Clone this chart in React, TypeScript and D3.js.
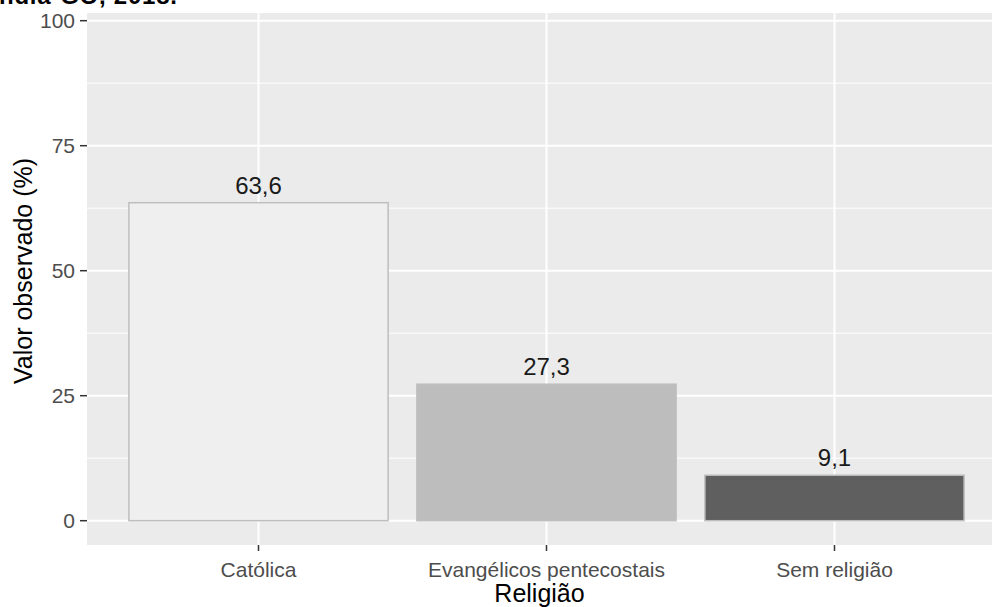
import * as d3 from 'd3';
import React from 'react';

const categories = ['Católica', 'Evangélicos pentecostais', 'Sem religião'];
const values = [63.6, 27.3, 9.1];
const labels = ['63,6', '27,3', '9,1'];
const fills = ['#efefef', '#bdbdbd', '#5f5f5f'];
const yTicks = [0, 25, 50, 75, 100];
const yMinor = [12.5, 37.5, 62.5, 87.5];

const W = 992;
const H = 607;
const panel = { left: 87, right: 992, top: 13, bottom: 545 };
const font = '"Liberation Sans", Arial, sans-serif';

const App = () => {
	const x = d3
		.scaleBand()
		.domain(categories)
		.range([114.5, 978.5])
		.paddingInner(0.1)
		.paddingOuter(0.05);
	const y = d3.scaleLinear().domain([0, 100]).range([520.7, 20.7]);

	return (
		<svg
			width={W}
			height={H}
			style={{ position: 'absolute', left: 0, top: 0, background: '#fff' }}
		>
			<text x={-1} y={4} fontFamily={font} fontWeight="bold" fontSize={24} textLength={178} fill="#000">
				ndia-GO, 2018.
			</text>
			<rect
				x={panel.left}
				y={panel.top}
				width={panel.right - panel.left}
				height={panel.bottom - panel.top}
				fill="#ebebeb"
			/>
			{yMinor.map(t => (
				<line key={'m' + t} x1={panel.left} x2={panel.right} y1={y(t)} y2={y(t)} stroke="#fff" strokeWidth={1} />
			))}
			{yTicks.map(t => (
				<line key={'g' + t} x1={panel.left} x2={panel.right} y1={y(t)} y2={y(t)} stroke="#fff" strokeWidth={2} />
			))}
			{categories.map(c => {
				const cx = (x(c) as number) + x.bandwidth() / 2;
				return <line key={'v' + c} x1={cx} x2={cx} y1={panel.top} y2={panel.bottom} stroke="#fff" strokeWidth={2} />;
			})}
			{categories.map((c, i) => (
				<rect
					key={'b' + c}
					x={x(c)}
					y={y(values[i])}
					width={x.bandwidth()}
					height={y(0) - y(values[i])}
					fill={fills[i]}
					stroke="#bebebe"
					strokeWidth={1.5}
				/>
			))}
			{categories.map((c, i) => (
				<text
					key={'l' + c}
					x={(x(c) as number) + x.bandwidth() / 2}
					y={y(values[i]) - 9}
					textAnchor="middle"
					fontFamily={font}
					fontSize={24}
					fill="#1a1a1a"
				>
					{labels[i]}
				</text>
			))}
			{yTicks.map(t => (
				<g key={'yt' + t}>
					<line x1={80} x2={panel.left} y1={y(t)} y2={y(t)} stroke="#333" strokeWidth={1.5} />
					<text
						x={75}
						y={y(t)}
						dy="0.35em"
						textAnchor="end"
						fontFamily={font}
						fontSize={21}
						fill="#4d4d4d"
					>
						{t}
					</text>
				</g>
			))}
			{categories.map(c => {
				const cx = (x(c) as number) + x.bandwidth() / 2;
				return (
					<g key={'xt' + c}>
						<line x1={cx} x2={cx} y1={panel.bottom} y2={panel.bottom + 6} stroke="#333" strokeWidth={1.5} />
						<text x={cx} y={577} textAnchor="middle" fontFamily={font} fontSize={21} fill="#4d4d4d">
							{c}
						</text>
					</g>
				);
			})}
			<text x={(panel.left + panel.right) / 2} y={602} textAnchor="middle" fontFamily={font} fontSize={25} fill="#000">
				Religião
			</text>
			<text
				transform={`translate(32,${(panel.top + panel.bottom) / 2 - 8}) rotate(-90)`}
				textAnchor="middle"
				fontFamily={font}
				fontSize={25}
				fill="#000"
			>
				Valor observado (%)
			</text>
		</svg>
	);
};

export default App;
